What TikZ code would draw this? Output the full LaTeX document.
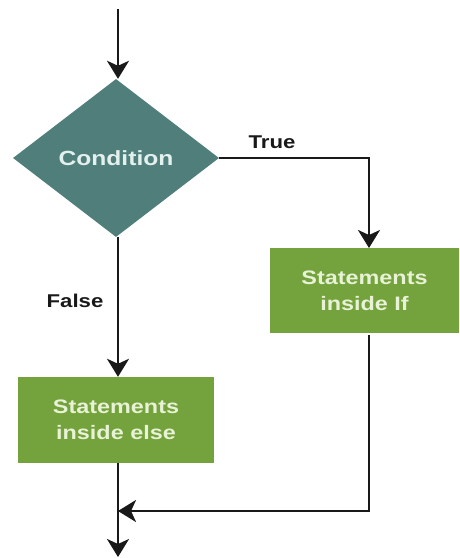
\documentclass[tikz,border=0pt]{standalone}
\usepackage{fontspec}
\setmainfont{Liberation Sans}
\newfontfamily\widesans[FakeStretch=1.2]{Liberation Sans}
\usetikzlibrary{shapes.geometric,arrows.meta,calc}
\definecolor{condcol}{HTML}{4F7E7B}
\definecolor{boxcol}{HTML}{74A23C}
\definecolor{condtext}{HTML}{E2F0EE}
\definecolor{boxtext}{HTML}{E8F2D6}
\tikzset{
  decision/.style={diamond, fill=condcol, draw=none, minimum width=206pt, minimum height=158pt, inner sep=0pt, aspect=1.3, text=condtext, font=\widesans\fontsize{20.5}{24}\selectfont\bfseries},
  stmt/.style={rectangle, fill=boxcol, draw=none, inner sep=0pt, text=boxtext, align=center, font=\widesans\fontsize{19.5}{26}\selectfont\bfseries},
  flow/.style={line width=2.4pt, draw=black!90, -{Stealth[length=18pt,width=22pt,inset=5pt]}},
  plain/.style={line width=2.4pt, draw=black!90},
  lbl/.style={font=\widesans\fontsize{18.5}{22}\selectfont\bfseries, text=black!90}
}
\begin{document}
\begin{tikzpicture}[x=1pt,y=-1pt]
\useasboundingbox (0,0) rectangle (459,558);
\node[decision] (cond) at (116,158) {Condition};
\node[stmt, minimum width=189pt, minimum height=85pt] (ifbox) at (364.5,290.5) {Statements\\inside If};
\node[stmt, minimum width=196pt, minimum height=86pt] (elsebox) at (116,420) {Statements\\inside else};
\coordinate (start) at (118,9);
\coordinate (merge) at (118,511);
\coordinate (finish) at (118,557);
\coordinate (ifin) at (369,248);
\coordinate (ifout) at (369,335);
\draw[flow] (start) -- (start |- cond.north);
\draw[flow] (cond.east) -| (ifin);
\draw[flow] (start |- cond.south) -- (start |- elsebox.north);
\draw[plain] (start |- elsebox.south) -- (merge);
\draw[flow] (merge) -- (finish);
\draw[flow] (ifout) |- (merge);
\node[lbl] (truelbl) at (272,142) {True};
\node[lbl] (falselbl) at (75,301) {False};
\end{tikzpicture}
\end{document}
